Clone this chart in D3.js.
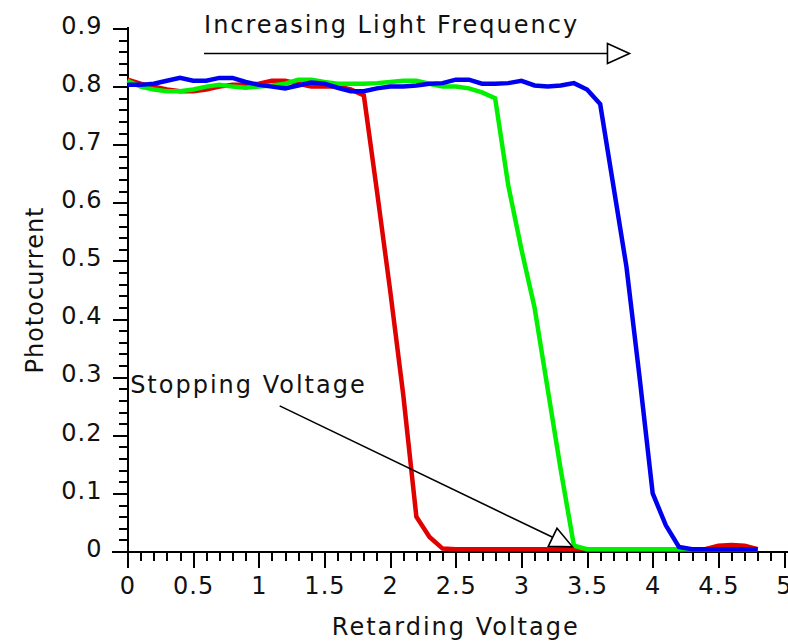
<!DOCTYPE html>
<html>
	<head>
		<script type="text/javascript" src="https://cdn.jsdelivr.net/npm/d3@7"></script>
		<style>
		body {
			margin: 0;
			background-color: white;
		}
		.chart text {
			font-family: "DejaVu Sans", sans-serif;
			font-size: 24px;
			fill: #111;
		}
		.axis path, .axis line {
			stroke: black;
			stroke-width: 2px;
			shape-rendering: crispEdges;
		}
		.series {
			fill: none;
			stroke-width: 4.5px;
			stroke-linejoin: miter;
		}
		</style>
	</head>
	<body>
		<script type="text/javascript">
			// retarding voltage (V), one reading every 0.1 V
			var voltage = [0, 0.1, 0.2, 0.3, 0.4, 0.5, 0.6, 0.7, 0.8, 0.9,
				1, 1.1, 1.2, 1.3, 1.4, 1.5, 1.6, 1.7, 1.8, 1.9,
				2, 2.1, 2.2, 2.3, 2.4, 2.5, 2.6, 2.7, 2.8, 2.9,
				3, 3.1, 3.2, 3.3, 3.4, 3.5, 3.6, 3.7, 3.8, 3.9,
				4, 4.1, 4.2, 4.3, 4.4, 4.5, 4.6, 4.7, 4.8];

			var redCurrent = [0.812, 0.805, 0.800, 0.795, 0.792, 0.792, 0.795, 0.800, 0.803, 0.803,
				0.805, 0.810, 0.810, 0.805, 0.800, 0.800, 0.800, 0.795, 0.785, 0.620,
				0.450, 0.270, 0.060, 0.025, 0.005, 0.004, 0.004, 0.004, 0.004, 0.004,
				0.004, 0.004, 0.004, 0.004, 0.004, 0.004, 0.004, 0.004, 0.004, 0.004,
				0.004, 0.004, 0.004, 0.004, 0.004, 0.010, 0.011, 0.010, 0.004];

			var greenCurrent = [0.810, 0.800, 0.795, 0.792, 0.792, 0.795, 0.800, 0.803, 0.800, 0.798,
				0.800, 0.802, 0.805, 0.812, 0.812, 0.808, 0.805, 0.805, 0.805, 0.806,
				0.808, 0.810, 0.810, 0.805, 0.800, 0.800, 0.797, 0.790, 0.780, 0.630,
				0.520, 0.420, 0.280, 0.140, 0.010, 0.004, 0.004, 0.004, 0.004, 0.004,
				0.004, 0.004, 0.004, 0.004, 0.004, 0.004, 0.004, 0.004, 0.004];

			var blueCurrent = [0.803, 0.803, 0.805, 0.810, 0.815, 0.810, 0.810, 0.815, 0.815, 0.808,
				0.803, 0.800, 0.797, 0.802, 0.807, 0.805, 0.798, 0.792, 0.792, 0.797,
				0.800, 0.800, 0.802, 0.805, 0.806, 0.812, 0.812, 0.805, 0.805, 0.806,
				0.810, 0.802, 0.800, 0.802, 0.806, 0.795, 0.770, 0.630, 0.490, 0.300,
				0.100, 0.045, 0.008, 0.004, 0.004, 0.004, 0.004, 0.004, 0.004];

			var xTicks = [0, 0.5, 1, 1.5, 2, 2.5, 3, 3.5, 4, 4.5, 5];
			var yTicks = [0, 0.1, 0.2, 0.3, 0.4, 0.5, 0.6, 0.7, 0.8, 0.9];

			var width = 788,
				height = 641;

			var x = d3.scaleLinear()
				.domain([0, 5])
				.range([127.5, 784]);

			var y = d3.scaleLinear()
				.domain([0, 0.9])
				.range([551.5, 28.5]);

			var fmt = d3.format("~g");

			var svg = d3.select("body").append("svg")
				.attr("class", "chart")
				.attr("width", width)
				.attr("height", height);

			// minor ticks first, majors on top
			svg.append("g")
				.attr("class", "axis")
				.attr("transform", "translate(0," + y(0) + ")")
				.call(d3.axisBottom(x).tickValues(d3.range(0, 5.01, 0.1)).tickSize(9).tickFormat(""))
				.select(".domain").remove();

			var xAxis = svg.append("g")
				.attr("class", "axis")
				.attr("transform", "translate(0," + y(0) + ")")
				.call(d3.axisBottom(x).tickValues(xTicks).tickFormat(fmt)
					.tickSizeInner(16).tickSizeOuter(0).tickPadding(9));
			xAxis.select(".domain").attr("d", "M112,0H788");
			xAxis.selectAll("text")
				.attr("fill", "#111")
				.style("letter-spacing", "1px");

			svg.append("g")
				.attr("class", "axis")
				.attr("transform", "translate(" + x(0) + ",0)")
				.call(d3.axisLeft(y).tickValues(d3.range(0, 0.901, 0.02)).tickSize(9).tickFormat(""))
				.select(".domain").remove();

			var yAxis = svg.append("g")
				.attr("class", "axis")
				.attr("transform", "translate(" + x(0) + ",0)")
				.call(d3.axisLeft(y).tickValues(yTicks).tickFormat(fmt)
					.tickSizeInner(15).tickSizeOuter(0).tickPadding(10));
			yAxis.select(".domain").attr("d", "M0," + y(0) + "V27");
			yAxis.selectAll("text")
				.attr("fill", "#111")
				.attr("dy", "0.2em")
				.style("letter-spacing", "1px");

			// axis titles
			svg.append("text")
				.attr("x", (x.range()[0] + x.range()[1]) / 2)
				.attr("y", 635)
				.attr("text-anchor", "middle")
				.style("letter-spacing", "2px")
				.text("Retarding Voltage");

			svg.append("text")
				.attr("transform", "translate(43,290) rotate(-90)")
				.attr("text-anchor", "middle")
				.style("letter-spacing", "1px")
				.text("Photocurrent");

			// the three curves
			var series = [
				{ name: "red", color: "#e00000", values: redCurrent },
				{ name: "green", color: "#00f000", values: greenCurrent },
				{ name: "blue", color: "#0000f0", values: blueCurrent }
			];

			var line = d3.line()
				.x(function(d, i) { return x(voltage[i]); })
				.y(function(d) { return y(d); });

			svg.selectAll(".series")
				.data(series)
			  .enter().append("path")
				.attr("class", "series")
				.attr("stroke", function(d) { return d.color; })
				.attr("d", function(d) { return line(d.values); });

			// annotations with open arrow heads
			function arrow(x1, y1, x2, y2) {
				var dx = x2 - x1, dy = y2 - y1,
					len = Math.sqrt(dx * dx + dy * dy),
					ux = dx / len, uy = dy / len,
					headLen = 22, headW = 10;
				var bx = x2 - ux * headLen, by = y2 - uy * headLen;
				svg.append("line")
					.attr("x1", x1).attr("y1", y1)
					.attr("x2", bx).attr("y2", by)
					.attr("stroke", "black")
					.attr("stroke-width", 1.6);
				svg.append("path")
					.attr("d", "M" + x2 + "," + y2 +
						"L" + (bx - uy * headW) + "," + (by + ux * headW) +
						"L" + (bx + uy * headW) + "," + (by - ux * headW) + "Z")
					.attr("fill", "white")
					.attr("stroke", "black")
					.attr("stroke-width", 1.6);
			}

			svg.append("text")
				.attr("x", x(0.583))
				.attr("y", y(0.892))
				.style("letter-spacing", "2px")
				.text("Increasing Light Frequency");
			arrow(x(0.583), y(0.857), x(3.823), y(0.857));

			svg.append("text")
				.attr("x", x(0.02))
				.attr("y", y(0.272))
				.style("letter-spacing", "2px")
				.text("Stopping Voltage");
			arrow(x(1.159), y(0.2506), x(3.389), y(0.008));
		</script>
	</body>
</html>
